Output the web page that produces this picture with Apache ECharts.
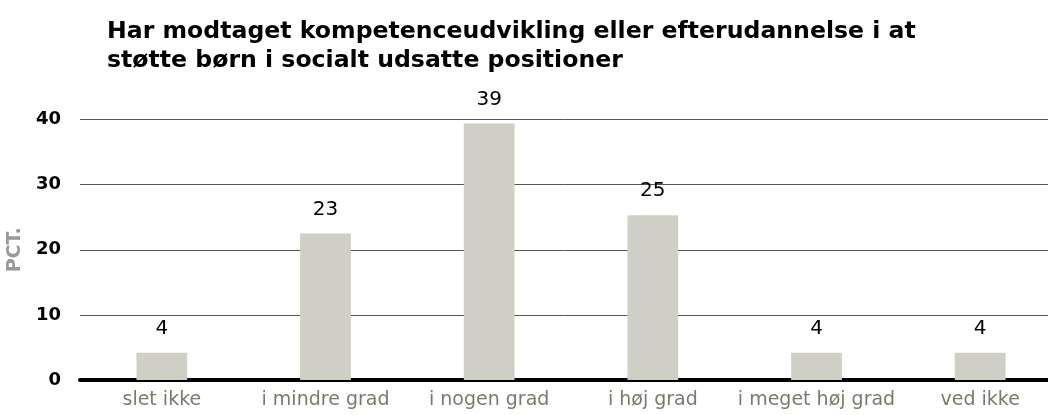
<!DOCTYPE html>
<html>
<head>
<meta charset="utf-8">
<script src="https://cdn.jsdelivr.net/npm/echarts@6/dist/echarts.min.js"></script>
<style>
  html, body { margin: 0; padding: 0; background: #fff; }
  #main { width: 1048px; height: 415px; }
</style>
</head>
<body>
<div id="main"></div>
<script>
// data
var categories = ['slet ikke', 'i mindre grad', 'i nogen grad', 'i høj grad', 'i meget høj grad', 'ved ikke'];
var values = [4.2, 22.5, 39.4, 25.3, 4.2, 4.2];
var yTicks = [0, 10, 20, 30, 40];

var font = 'DejaVu Sans';
var chart = echarts.init(document.getElementById('main'));

chart.setOption({
  animation: false,
  title: {
    text: 'Har modtaget kompetenceudvikling eller efterudannelse i at\nstøtte børn i socialt udsatte positioner',
    left: 102,
    top: 12,
    textStyle: { fontFamily: font, fontSize: 23.6, fontWeight: 'bold', color: '#000', lineHeight: 29 }
  },
  // axis runs past the right edge, like the original
  grid: { left: 80, right: -14, top: 119.5, bottom: 35, outerBoundsMode: 'none' },
  xAxis: {
    type: 'category',
    data: categories,
    axisLine: { lineStyle: { color: '#000', width: 4 } },
    axisTick: { show: false },
    axisLabel: { interval: 0, color: '#7a7a6e', fontFamily: font, fontSize: 19, margin: 11 }
  },
  yAxis: {
    type: 'value',
    min: yTicks[0],
    max: yTicks[yTicks.length - 1],
    interval: 10,
    name: 'PCT.',
    nameLocation: 'middle',
    nameGap: 48,
    nameTextStyle: { color: '#999', fontFamily: font, fontSize: 19, fontWeight: 'bold' },
    axisLine: { show: false },
    axisTick: { show: false },
    axisLabel: { color: '#000', fontFamily: font, fontSize: 18, fontWeight: 'bold', margin: 19 },
    splitLine: { lineStyle: { color: '#555', width: 1 } }
  },
  series: [{
    type: 'bar',
    data: values,
    barWidth: '31%',
    itemStyle: { color: '#cfcfc6' },
    label: {
      show: true,
      position: 'top',
      distance: 14,
      color: '#000',
      fontFamily: font,
      fontSize: 20,
      formatter: function (p) { return Math.round(p.value); }
    }
  }]
});
</script>
</body>
</html>
